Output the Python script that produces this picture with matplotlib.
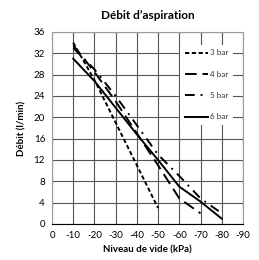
import matplotlib
matplotlib.use("Agg")
from matplotlib import pyplot as plt

plt.rcParams['font.family'] = ['Lato', 'DejaVu Sans']
plt.rcParams['axes.unicode_minus'] = False

# débit (l/min) selon le niveau de vide (kPa)
vide_3bar = [-10, -20, -30, -40, -50]
debit_3bar = [34, 27, 19, 11, 3]

vide_4bar = [-10, -20, -30, -40, -50, -60, -70]
debit_4bar = [33.5, 28.5, 23, 17, 11, 4.8, 2]

vide_5bar = [-10, -20, -30, -40, -50, -60, -70, -80]
debit_5bar = [33, 29, 24, 18.5, 13, 9, 4.8, 2]

vide_6bar = [-10, -20, -30, -40, -50, -60, -70, -80]
debit_6bar = [31, 26.8, 21.8, 16.8, 12, 7, 4.2, 1]

xticks = [0, -10, -20, -30, -40, -50, -60, -70, -80, -90]
yticks = [0, 4, 8, 12, 16, 20, 24, 28, 32, 36]

fig = plt.figure(figsize=(2.59, 2.60), dpi=100)
ax = fig.add_axes([0.2008, 0.1385, 0.7372, 0.7385])

ax.plot(vide_3bar, debit_3bar, color='black', lw=1.4, dashes=(2.2, 1.3), label='3 bar')
ax.plot(vide_4bar, debit_4bar, color='black', lw=1.4, dashes=(6, 3), label='4 bar')
ax.plot(vide_5bar, debit_5bar, color='black', lw=1.4, dashes=(5, 3, 1, 3), label='5 bar')
ax.plot(vide_6bar, debit_6bar, color='black', lw=1.4, label='6 bar')

ax.set_xlim(0, -90)
ax.set_ylim(0, 36)
ax.set_xticks(xticks)
ax.set_yticks(yticks)
ax.grid(True, color='#555555', lw=0.8)
ax.set_axisbelow(True)
ax.tick_params(length=0, labelsize=7, pad=5)
for s in ax.spines.values():
  s.set_color('#999999')
ax.spines['bottom'].set_color('black')

ax.set_title("Débit d\u2019aspiration", fontsize=8.5, fontweight='bold', pad=9)
ax.set_xlabel('Niveau de vide (kPa)', fontsize=7, fontweight='bold', labelpad=4)
ax.set_ylabel('Débit (l/min)', fontsize=7, fontweight='bold', labelpad=5)

leg = ax.legend(loc='upper right', bbox_to_anchor=(0.97, 0.955), fontsize=5.8, frameon=True,
                handlelength=2.8, handletextpad=0.3, labelspacing=1.78, borderpad=0.6)
leg.get_frame().set_edgecolor('white')
leg.get_frame().set_linewidth(0)
leg.get_frame().set_alpha(1)
for t in leg.get_texts():
  t.set_color('#333333')

plt.savefig('out.png', dpi=100)
plt.close()
